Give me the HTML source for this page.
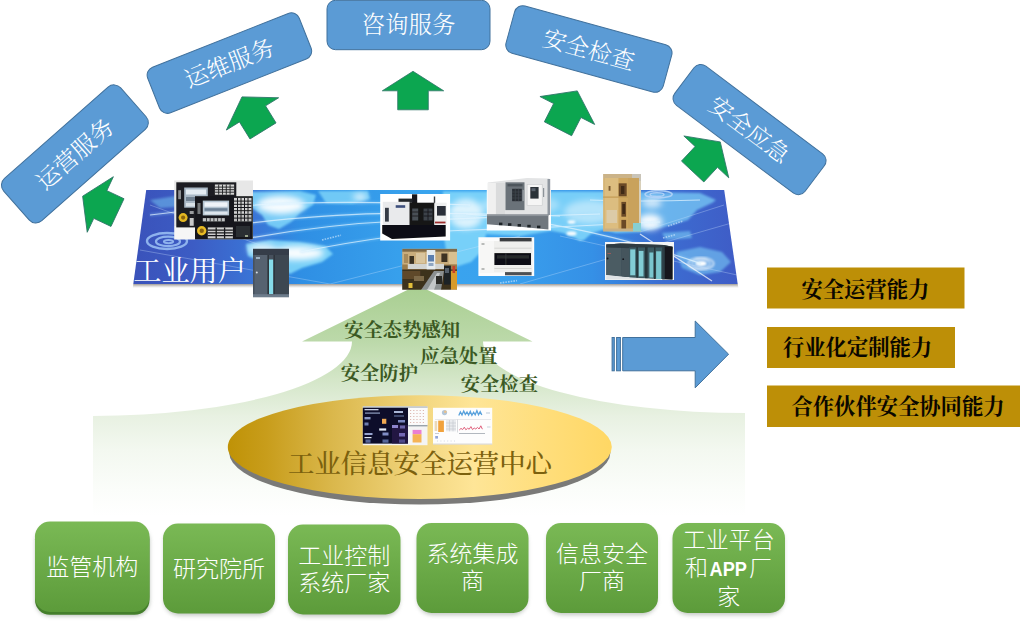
<!DOCTYPE html>
<html lang="zh-CN">
<head>
<meta charset="utf-8">
<title>工业信息安全运营中心</title>
<style>
html,body{margin:0;padding:0;background:#fff;}
body{width:1020px;height:621px;overflow:hidden;}
svg{display:block;}
.song{font-family:"Liberation Serif","Noto Serif CJK SC",serif;}
.hei{font-family:"Liberation Sans","Noto Sans CJK SC",sans-serif;}
.bt{fill:#fff;font-size:23.5px;font-weight:300;text-anchor:middle;}
.gl{fill:#3b5923;font-size:19.3px;font-weight:700;}
.gd{fill:#0a0700;font-size:21.3px;font-weight:700;}
.gb{fill:#fff;font-size:23px;font-weight:300;text-anchor:middle;}
</style>
</head>
<body>
<svg width="1020" height="621" viewBox="0 0 1020 621">
<defs>
  <linearGradient id="gArrow" x1="0" y1="285" x2="0" y2="516" gradientUnits="userSpaceOnUse">
    <stop offset="0" stop-color="#a8ce90"/>
    <stop offset="0.245" stop-color="#bcd9aa"/>
    <stop offset="0.41" stop-color="#d4e6c8"/>
    <stop offset="0.567" stop-color="#e8f1e2"/>
    <stop offset="0.714" stop-color="#f3f8f0"/>
    <stop offset="0.887" stop-color="#fbfdfa"/>
    <stop offset="1" stop-color="#ffffff"/>
  </linearGradient>
  <linearGradient id="gMap" x1="132" y1="0" x2="738" y2="0" gradientUnits="userSpaceOnUse">
    <stop offset="0" stop-color="#3a52ba"/>
    <stop offset="0.1" stop-color="#3c5cc4"/>
    <stop offset="0.2" stop-color="#3a74d6"/>
    <stop offset="0.28" stop-color="#2f8fe4"/>
    <stop offset="0.48" stop-color="#39a4ee"/>
    <stop offset="0.6" stop-color="#3aa2ee"/>
    <stop offset="0.76" stop-color="#3590e6"/>
    <stop offset="0.87" stop-color="#3c6ed2"/>
    <stop offset="1" stop-color="#3f5cc6"/>
  </linearGradient>
  <linearGradient id="gShadow" x1="0" y1="284" x2="0" y2="288.2" gradientUnits="userSpaceOnUse">
    <stop offset="0" stop-color="#9a948e" stop-opacity="0.95"/>
    <stop offset="0.5" stop-color="#b9b5b0" stop-opacity="0.55"/>
    <stop offset="1" stop-color="#d8d6d4" stop-opacity="0"/>
  </linearGradient>
  <linearGradient id="gGold" x1="227.8" y1="0" x2="611.8" y2="0" gradientUnits="userSpaceOnUse">
    <stop offset="0" stop-color="#bf9206"/>
    <stop offset="0.1" stop-color="#c89d1b"/>
    <stop offset="0.27" stop-color="#dab74b"/>
    <stop offset="0.5" stop-color="#f2d67f"/>
    <stop offset="0.64" stop-color="#fee597"/>
    <stop offset="0.82" stop-color="#ffde7c"/>
    <stop offset="1" stop-color="#ffd764"/>
  </linearGradient>
  <linearGradient id="gBox" x1="0" y1="0" x2="0" y2="1">
    <stop offset="0" stop-color="#7ab955"/>
    <stop offset="1" stop-color="#5c9b3a"/>
  </linearGradient>
  <filter id="blur3" x="-30%" y="-30%" width="160%" height="160%"><feGaussianBlur stdDeviation="3"/></filter>
  <filter id="blur05" x="-5%" y="-5%" width="110%" height="110%"><feGaussianBlur stdDeviation="0.45"/></filter>
  <filter id="blur07" x="-5%" y="-5%" width="110%" height="110%"><feGaussianBlur stdDeviation="0.7"/></filter>
  <filter id="blur1" x="-10%" y="-10%" width="120%" height="120%"><feGaussianBlur stdDeviation="0.8"/></filter>
  <filter id="blur2" x="-30%" y="-30%" width="160%" height="160%"><feGaussianBlur stdDeviation="2"/></filter>
  <filter id="blur6" x="-30%" y="-30%" width="160%" height="160%"><feGaussianBlur stdDeviation="6"/></filter>
  <clipPath id="mapClip"><polygon points="146.2,190 724.2,190 737.7,284 133.3,284"/></clipPath>
</defs>

<!-- big gradient arrow -->
<path id="bigArrow" fill="url(#gArrow)" d="M417.5 285 L532.5 341.5 L483 341.5 A262 71.5 0 0 0 745 413 L745 516 L93 516 L93 416 A259 74.5 0 0 0 352 341.5 L302 341.5 Z"/>

<!-- map panel -->
<g id="map">
  <polygon points="133.3,284 737.7,284 738.5,288.2 132.8,288.2" fill="url(#gShadow)"/>
  <polygon points="146.2,190 724.2,190 737.7,284 133.3,284" fill="url(#gMap)"/>
  <g clip-path="url(#mapClip)">
    <!-- continents (cyan) -->
    <g fill="#7fd6fa" filter="url(#blur1)">
      <polygon opacity="0.45" points="150,200 176,196 215,194 250,192 256,206 240,209 215,207 190,206 160,208"/>
      <polygon opacity="0.85" points="250,192 300,191 316,195 313,205 301,212 291,222 279,229 268,225 262,215 252,208"/>
      <polygon opacity="0.8" points="318,191 368,191 370,199 352,204 326,203"/>
      <polygon opacity="0.9" points="246,244 270,240 300,242 325,246 333,254 322,262 302,268 290,274 281,268 262,262 248,256"/>
      <polygon opacity="0.88" points="443,191.5 640,191.5 640,232 616,233 603,230 592,233 584,240 580,241 574,237.5 563,233 551,230.7 520,236 486,234 483,250 471,262 452,268 446,250 442,225"/>
      <polygon opacity="0.68" points="640,192 700,193 716,200 712,203 697,210 688,220 675,224 660,228 640,232"/>
      <polygon opacity="0.55" points="662,233 690,231 692,238 666,240"/>
      <polygon opacity="0.55" points="676,252 700,247 722,252 731,262 720,272 700,275 682,268"/>
      <polygon opacity="0.5" points="400,197 440,195 441,230 420,238 402,228"/>
    </g>
    <!-- glows -->
    <g fill="#ffffff" filter="url(#blur3)">
      <ellipse cx="281" cy="205" rx="24" ry="9" opacity="0.95"/>
      <ellipse cx="298" cy="253" rx="26" ry="7" opacity="0.95"/>
      <ellipse cx="262" cy="249" rx="14" ry="5" opacity="0.8"/>
      <ellipse cx="360" cy="197" rx="7" ry="3" opacity="0.9"/>
      <ellipse cx="466" cy="214" rx="17" ry="15" opacity="0.75"/>
      <ellipse cx="520" cy="205" rx="40" ry="10" opacity="0.35"/>
      <ellipse cx="590" cy="212" rx="26" ry="12" opacity="0.45"/>
      <ellipse cx="650" cy="222" rx="12" ry="8" opacity="0.95"/>
      <ellipse cx="652" cy="203" rx="10" ry="5" opacity="0.7"/>
    </g>
    <g fill="#ffffff" filter="url(#blur1)">
      <ellipse cx="571.5" cy="222" rx="4" ry="1.8" opacity="0.95"/>
      <ellipse cx="571.5" cy="233.5" rx="5" ry="2.2" opacity="0.95"/>
      <ellipse cx="701" cy="263.6" rx="6" ry="2.8" opacity="1"/>
    </g>
    <g fill="none" stroke="#ffffff" filter="url(#blur1)">
      <ellipse cx="701" cy="263.6" rx="12.7" ry="6" stroke-width="1.6" opacity="0.75"/>
      <ellipse cx="701" cy="263.6" rx="9" ry="4.2" stroke-width="1.2" opacity="0.8"/>
    </g>
    <!-- swirls -->
    <g fill="none" stroke="#93b8f0" opacity="0.95">
      <ellipse cx="167" cy="241" rx="20" ry="8" stroke-width="2.4"/>
      <ellipse cx="168" cy="241.4" rx="12" ry="4.7" stroke-width="2.2"/>
      <ellipse cx="168.5" cy="241.6" rx="4.6" ry="1.7" stroke-width="2"/>
    </g>
    <g fill="none" stroke="#b4d4f8" opacity="0.9">
      <ellipse cx="658.6" cy="194.3" rx="13.5" ry="3.6" stroke-width="1.6"/>
      <ellipse cx="657" cy="194.6" rx="7" ry="1.9" stroke-width="1.4"/>
    </g>
    <!-- arcs and grid lines -->
    <g fill="none" stroke="#9fdcff" stroke-width="3.2" opacity="0.28" filter="url(#blur1)">
      <path d="M150 215 Q230 205 300 203 T470 205"/>
      <path d="M180 232 Q300 215 380 213.7 T560 216"/>
      <path d="M250 238 Q330 224 400 221 T600 214"/>
      <path d="M300 252 Q400 232 470 230 T660 222"/>
      <path d="M466 214 Q580 222 701 263.6"/>
    </g>
    <g fill="none" stroke="#e6f6ff" stroke-width="1.2" opacity="0.7">
      <path d="M150 215 Q230 205 300 203 T470 205"/>
      <path d="M180 232 Q300 215 380 213.7 T560 216"/>
      <path d="M250 238 Q330 224 400 221 T600 214"/>
      <path d="M300 252 Q400 232 470 230 T660 222"/>
      <path d="M466 214 Q580 222 701 263.6"/>
      <path d="M590 200 Q640 202 700 200"/>
    </g>
    <g fill="none" stroke="#cfe6ff" stroke-width="0.8" opacity="0.4">
      <path d="M140 250 L330 284"/>
      <path d="M330 284 L520 236"/>
      <path d="M520 284 L735 222"/>
      <path d="M560 236 L737 275"/>
      <path d="M640 232 L724 205"/>
      <path d="M150 205 L260 245"/>
    </g>
    <line x1="640" y1="234" x2="712" y2="281" stroke="#ffffff" stroke-width="1.3" opacity="0.7"/>
    <!-- tiny caption marks on the map -->
    <g stroke="#d8ecff" stroke-width="1.6" stroke-dasharray="1.6 1.1" opacity="0.6" fill="none">
      <path d="M322 240 L341 235.2"/>
      <path d="M500 283 L517 280.6"/>
      <path d="M668 226 L683 221"/>
      <path d="M663 238 L676 234.5"/>
    </g>
  </g>
</g>

<!-- device pictures on map -->
<g id="pics">
  <!-- 1 CNC control panels -->
  <clipPath id="c1"><rect x="174.2" y="180.4" width="78.8" height="59.2"/></clipPath>
  <g clip-path="url(#c1)"><g filter="url(#blur05)">
    <rect x="172" y="178" width="84" height="64" fill="#e7e7e7"/>
    <rect x="174.2" y="226" width="22" height="14" fill="#f6f6f6"/>
    <rect x="176.3" y="182.3" width="60" height="45.1" fill="#1d1e20"/>
    <rect x="184.2" y="187.5" width="23.6" height="20.2" fill="#aab8c6"/>
    <rect x="186" y="189.5" width="20" height="5" fill="#e4ebf2"/>
    <rect x="186" y="197" width="20" height="4" fill="#6f8091"/>
    <rect x="186" y="203" width="20" height="3.4" fill="#d9e1e8"/>
    <rect x="178.2" y="190.2" width="2.8" height="9" fill="#8d8f92"/>
    <rect x="214.9" y="184.5" width="19.2" height="10.2" fill="#d6d6d6"/>
    <path d="M214.9 187.1h19.2M214.9 189.7h19.2M214.9 192.2h19.2M218.7 184.5v10.2M222.5 184.5v10.2M226.3 184.5v10.2M230.1 184.5v10.2" stroke="#1d1e20" stroke-width="0.9"/>
    <circle cx="183.1" cy="217.6" r="4.5" fill="#e4b721"/>
    <circle cx="183.1" cy="217.6" r="2.1" fill="#8a6410"/>
    <rect x="189.7" y="211" width="4" height="3" fill="#9b9da0"/>
    <rect x="189.7" y="218" width="4" height="7.8" fill="#c8c8c8"/>
    <rect x="195" y="196.2" width="57.8" height="43.4" fill="#18191b"/>
    <rect x="202.8" y="200.6" width="26.3" height="14.8" fill="#b4c4d1"/>
    <rect x="204.5" y="202.3" width="23" height="4.4" fill="#eef3f8"/>
    <rect x="204.5" y="208.2" width="23" height="2.6" fill="#6d8196"/>
    <rect x="204.5" y="212" width="23" height="2.4" fill="#dde5ec"/>
    <rect x="197.5" y="203" width="3" height="11" fill="#75787c"/>
    <rect x="202.8" y="218.1" width="22" height="3.3" fill="#bfc1c3"/>
    <path d="M206.5 218.1v3.3M210.2 218.1v3.3M213.9 218.1v3.3M217.6 218.1v3.3M221.3 218.1v3.3" stroke="#18191b" stroke-width="0.8"/>
    <rect x="234" y="197.9" width="17.5" height="15.9" fill="#d2d2d2"/>
    <path d="M234 201.1h17.5M234 204.3h17.5M234 207.5h17.5M234 210.7h17.5M237.5 197.9v15.9M241 197.9v15.9M244.5 197.9v15.9M248 197.9v15.9" stroke="#18191b" stroke-width="1"/>
    <rect x="234" y="214.9" width="17.5" height="6.5" fill="#bdbdbd"/>
    <path d="M234 218.1h17.5M237.5 214.9v6.5M241 214.9v6.5M244.5 214.9v6.5M248 214.9v6.5" stroke="#18191b" stroke-width="1"/>
    <circle cx="201.7" cy="230.7" r="4.7" fill="#e8bb25"/>
    <circle cx="201.7" cy="230.7" r="2.2" fill="#8a6410"/>
    <rect x="207.8" y="227.4" width="25.1" height="11" fill="#cfcfcf"/>
    <path d="M207.8 230.1h25.1M207.8 232.9h25.1M207.8 235.6h25.1M216.2 227.4v11M224.6 227.4v11" stroke="#18191b" stroke-width="1.3"/>
    <rect x="236" y="226" width="14" height="11" fill="#2c2d30"/>
    <rect x="245" y="235" width="3" height="2" fill="#9aa58a"/>
  </g></g>
  <!-- 2 small PLC -->
  <clipPath id="c2"><rect x="253" y="248.7" width="36" height="48.6"/></clipPath>
  <g clip-path="url(#c2)"><g filter="url(#blur05)">
    <rect x="251" y="246" width="40" height="54" fill="#47515d"/>
    <rect x="253" y="248.7" width="36" height="6.3" fill="#363e48"/>
    <rect x="254.5" y="255" width="13" height="40" fill="#56626f"/>
    <rect x="256" y="257" width="4" height="2" fill="#9fb3c4"/>
    <rect x="267.5" y="255" width="1.5" height="41" fill="#2d343c"/>
    <rect x="269" y="259.5" width="4.4" height="34.5" fill="#86dbe9"/>
    <rect x="273.4" y="255" width="1.6" height="41" fill="#2d343c"/>
    <rect x="275" y="255" width="14" height="41" fill="#3e4751"/>
    <circle cx="256.8" cy="272.5" r="1" fill="#d5dce2"/>
    <rect x="253" y="294.2" width="36" height="3.2" fill="#6d7b8b"/>
  </g></g>
  <!-- 3 machining centre -->
  <clipPath id="c3"><rect x="380.2" y="194" width="69.9" height="46.4"/></clipPath>
  <g clip-path="url(#c3)"><g filter="url(#blur05)">
    <rect x="378" y="192" width="74" height="50" fill="#ffffff"/>
    <rect x="412" y="194.3" width="5.2" height="9" fill="#16171a"/>
    <rect x="398.5" y="198.6" width="14" height="4.2" fill="#24262a"/>
    <rect x="433.8" y="196.5" width="1.4" height="7" fill="#3a3c40"/>
    <rect x="382.8" y="201.8" width="26.8" height="25" fill="#e9eaec"/>
    <rect x="385" y="207.8" width="3.8" height="13.8" fill="#343a44"/>
    <rect x="395.7" y="205.2" width="9.5" height="2.6" fill="#3c4f7c"/>
    <rect x="409.5" y="202.7" width="25" height="24.1" fill="#141517"/>
    <rect x="412.2" y="208.5" width="6" height="12" fill="#4a4f57"/>
    <rect x="423.5" y="208.5" width="9" height="12" fill="#3d4249"/>
    <path d="M412.2 212h6M412.2 216h6M423.5 212h9M423.5 216h9M428 208.5v12" stroke="#141517" stroke-width="0.8"/>
    <rect x="434.5" y="202.7" width="12.1" height="22.3" fill="#eeefef"/>
    <rect x="437" y="206" width="8.7" height="9.6" fill="#2a2f37"/>
    <rect x="435" y="221.6" width="10.5" height="1.8" fill="#9d2f2f"/>
    <polygon points="382.2,225 445.7,225 445.7,236.5 392,239 382.2,233.6" fill="#0f1012"/>
  </g></g>
  <!-- 4 workshop photo -->
  <clipPath id="c4"><rect x="402.2" y="248.7" width="54.8" height="41.1"/></clipPath>
  <g clip-path="url(#c4)"><g filter="url(#blur07)">
    <rect x="400" y="246" width="60" height="46" fill="#9c7d4c"/>
    <rect x="400" y="246" width="60" height="18.5" fill="#c9ad7c"/>
    <rect x="402.2" y="248.7" width="55" height="3" fill="#7f6a48"/>
    <rect x="409.5" y="256" width="4.5" height="8" fill="#3b3022"/>
    <rect x="404" y="254" width="4" height="9" fill="#a78b5c"/>
    <rect x="416" y="253" width="9" height="10" fill="#d9c59e"/>
    <rect x="441.4" y="253.5" width="6" height="8.5" fill="#3d3124"/>
    <rect x="449" y="252" width="8" height="12" fill="#d8c090"/>
    <rect x="407.8" y="263.9" width="36.2" height="5.1" fill="#d2d4d2"/>
    <rect x="426.7" y="250" width="8.6" height="20.8" fill="#e6ecef"/>
    <rect x="428" y="255" width="6" height="6.5" fill="#5c7fae"/>
    <rect x="428.5" y="263" width="5" height="3" fill="#8fa6c2"/>
    <rect x="400" y="269.5" width="60" height="22" fill="#3e301f"/>
    <rect x="402.2" y="271" width="18" height="8" fill="#5e4a2c"/>
    <rect x="408.5" y="283" width="4" height="5" fill="#e3bf3a"/>
    <rect x="414" y="276" width="10" height="5" fill="#7d6a4a"/>
    <polygon points="421,290 434,271 444,271 441,290" fill="#8b9091"/>
    <polygon points="427,290 437,273 440,273 434,290" fill="#c3c7c8"/>
    <rect x="444" y="265.6" width="6.9" height="19" fill="#1e2125"/>
    <rect x="445" y="268" width="4" height="5" fill="#55606c"/>
    <rect x="450.9" y="270.8" width="6.2" height="19" fill="#d79a2c"/>
    <rect x="452.5" y="266" width="2.6" height="7" fill="#c8402c"/>
    <rect x="436" y="276" width="6" height="8" fill="#2c2a28"/>
  </g></g>
  <!-- 5 lathe -->
  <clipPath id="c5"><rect x="486.8" y="177" width="64.2" height="53.5"/></clipPath>
  <g clip-path="url(#c5)"><g filter="url(#blur05)">
    <rect x="484" y="175" width="70" height="58" fill="#ffffff"/>
    <polygon points="487.8,182.6 527,178 549.3,178.6 549.3,214.5 487.8,214.5" fill="#e3e4e5"/>
    <rect x="487.8" y="183" width="8" height="31.5" fill="#f0f0f0"/>
    <rect x="496" y="183" width="9" height="31.5" fill="#dadbdc"/>
    <rect x="505.5" y="182.3" width="19" height="27.8" fill="#6b7279"/>
    <rect x="507.5" y="184" width="15" height="2.4" fill="#4e545b"/>
    <rect x="512.1" y="188.8" width="9.7" height="12.4" fill="#2a2f36"/>
    <path d="M512.1 192h9.7M512.1 195h9.7M512.1 198h9.7M515.3 188.8v12.4M518.6 188.8v12.4" stroke="#454b53" stroke-width="0.6"/>
    <rect x="522.6" y="190" width="1.2" height="11" fill="#9aa0a6"/>
    <rect x="527.1" y="184.4" width="15.1" height="21.3" fill="#f5f5f5"/>
    <rect x="527.1" y="184.4" width="15.1" height="21.3" fill="none" stroke="#c9cacc" stroke-width="0.6"/>
    <rect x="530.3" y="187" width="8.3" height="11.6" fill="#2b3037"/>
    <rect x="531.5" y="188.2" width="4" height="3" fill="#59626c"/>
    <rect x="543" y="188" width="1.2" height="9" fill="#8d9399"/>
    <rect x="547.5" y="179" width="2.7" height="36" fill="#9097a0"/>
    <polygon points="486.8,214.5 548.4,214.5 548.4,229.6 520,226.8 486.8,224.2" fill="#70777e"/>
    <rect x="486.8" y="214.5" width="61.6" height="1.6" fill="#8e949a"/>
    <rect x="499" y="222.6" width="3.4" height="2.6" fill="#1f2327"/>
    <rect x="508" y="223.2" width="3.4" height="2.6" fill="#1f2327"/>
    <rect x="517.6" y="224" width="3.4" height="2.6" fill="#1f2327"/>
    <rect x="527.3" y="224.8" width="3.4" height="2.6" fill="#1f2327"/>
    <rect x="537" y="225.6" width="3.4" height="2.6" fill="#1f2327"/>
  </g></g>
  <!-- 6 white PLC box -->
  <clipPath id="c6"><rect x="478.4" y="237.2" width="55.8" height="38.9"/></clipPath>
  <g clip-path="url(#c6)"><g filter="url(#blur05)">
    <rect x="476" y="235" width="60" height="44" fill="#fcfcfc"/>
    <rect x="480" y="241" width="52.5" height="31.5" fill="#efefed"/>
    <rect x="480" y="241" width="14" height="31.5" fill="#f7f7f6"/>
    <rect x="499.7" y="237.9" width="31.9" height="3.5" fill="#3b3d3f"/>
    <rect x="494.4" y="253.1" width="36.6" height="11.9" fill="#0f1012"/>
    <rect x="497" y="255.2" width="32" height="3.4" fill="#26292c"/>
    <rect x="505.5" y="253.1" width="0.8" height="11.9" fill="#3a3d40"/>
    <rect x="505" y="272.1" width="26.6" height="3.2" fill="#4d5052"/>
    <path d="M494.4 248.2h37M494.4 268.5h37" stroke="#d3d3d0" stroke-width="0.9"/>
    <rect x="481.5" y="243" width="3" height="2" fill="#b9bbb9"/>
    <rect x="481.5" y="268" width="3" height="2" fill="#b9bbb9"/>
  </g></g>
  <!-- 7 beige servo drive -->
  <clipPath id="c7"><rect x="603.1" y="174" width="37.9" height="57.4"/></clipPath>
  <g clip-path="url(#c7)"><g filter="url(#blur07)">
    <rect x="600" y="171" width="44" height="63" fill="#d6b576"/>
    <rect x="603" y="174" width="38" height="4.5" fill="#cbb388"/>
    <rect x="632" y="174" width="9" height="7" fill="#c9c4b8"/>
    <rect x="638.8" y="181" width="2.4" height="42" fill="#d9d0ba"/>
    <rect x="605" y="178" width="13.5" height="51" fill="#dcbd80"/>
    <rect x="618.5" y="178" width="9.5" height="52" fill="#cfa75f"/>
    <rect x="628" y="178" width="11" height="51" fill="#c9a25c"/>
    <rect x="618.7" y="183.3" width="8" height="13.2" fill="#6b4a28"/>
    <rect x="621" y="186" width="3.4" height="8" fill="#3f2a16"/>
    <rect x="621.4" y="201.9" width="4.7" height="14.8" fill="#6b4a28"/>
    <rect x="622.4" y="204" width="2.6" height="10" fill="#3f2a16"/>
    <rect x="621.4" y="219.9" width="4.7" height="9.6" fill="#6b4a28"/>
    <rect x="608.6" y="186" width="1.9" height="4.7" fill="#7a5a30"/>
    <rect x="606.5" y="210" width="10.5" height="13" fill="#dccba8"/>
    <rect x="603" y="196.5" width="25" height="1.2" fill="#c29b55"/>
    <rect x="603" y="228.5" width="30" height="3" fill="#c9b186"/>
    <rect x="633" y="223" width="8" height="8.5" fill="#86cfd2"/>
  </g></g>
  <!-- 8 S7-300 rack -->
  <clipPath id="c8"><rect x="604.9" y="241.9" width="69.2" height="38.1"/></clipPath>
  <g clip-path="url(#c8)"><g filter="url(#blur07)">
    <rect x="602" y="239" width="76" height="44" fill="#f3f4f5"/>
    <polygon points="606.3,244.5 622,243.5 664,245 672.5,246.8 672.5,279.6 625,277 606.3,274.9" fill="#3f5159"/>
    <polygon points="606.3,244.5 621.2,243.6 621.2,276.5 606.3,274.9" fill="#4b5b64"/>
    <rect x="621.6" y="244" width="7.8" height="33" fill="#45545d"/>
    <polygon points="606.3,244.5 622,243.5 664,245 672.5,246.8 672.5,249.5 606.3,247.5" fill="#2f3b42"/>
    <rect x="629.4" y="247.5" width="35" height="31" fill="#3b5a62"/>
    <rect x="630.2" y="249.4" width="5.1" height="25.9" fill="#82cdd5"/>
    <rect x="638.8" y="250.9" width="4.7" height="25.5" fill="#82cdd5"/>
    <rect x="649.4" y="252.5" width="3.9" height="25.1" fill="#7ac5ce"/>
    <rect x="656.1" y="251.3" width="5.1" height="27.9" fill="#7ac5ce"/>
    <rect x="636.3" y="247" width="1.6" height="31" fill="#26343a"/>
    <rect x="645" y="247" width="2.6" height="31.5" fill="#26343a"/>
    <rect x="654" y="247" width="1.5" height="32" fill="#26343a"/>
    <rect x="662.2" y="247" width="2.5" height="32.5" fill="#2d3d44"/>
    <polygon points="664.7,246.4 672.5,246.8 672.5,279.6 664.7,279.2" fill="#15191c"/>
    <circle cx="607.6" cy="258.5" r="0.9" fill="#14181b"/>
    <circle cx="623.2" cy="259.2" r="0.9" fill="#14181b"/>
    <rect x="607.5" y="253" width="3.5" height="1" fill="#9a5a5a"/>
    <polygon points="606.3,274.9 625,277 660,279.5 606.3,279.5" fill="#dfe3e6"/>
  </g></g>
</g>
<text class="song" x="133.2" y="281.3" font-size="28.2" fill="#ffffff">工业用户</text>

<!-- top blue boxes -->
<g id="blueBoxes" stroke="#41719c" stroke-width="1" fill="#5b9bd5">
  <rect x="-78" y="-28.2" width="156" height="56.4" rx="9" transform="translate(74.9,153.9) rotate(-41.4)"/>
  <rect x="-81.5" y="-24.5" width="163" height="49" rx="8.5" transform="translate(229.4,63.1) rotate(-21.6)"/>
  <rect x="327" y="0.3" width="163" height="49.4" rx="8.5"/>
  <rect x="-81.5" y="-24.5" width="163" height="49" rx="8.5" transform="translate(588.9,49) rotate(15.4)"/>
  <rect x="-81.5" y="-24.5" width="163" height="49" rx="8.5" transform="translate(749.55,129.55) rotate(36.9)"/>
</g>
<g class="song bt">
  <text transform="translate(74.9,153.9) rotate(-41.4)" y="8.5">运营服务</text>
  <text transform="translate(229.4,63.1) rotate(-21.6)" y="8.5">运维服务</text>
  <text x="408.5" y="33">咨询服务</text>
  <text transform="translate(588.9,49) rotate(15.4)" y="9">安全检查</text>
  <text transform="translate(749.55,129.55) rotate(36.9)" y="8.5">安全应急</text>
</g>

<!-- green small arrows -->
<g id="greenArrows" fill="#0ca650" stroke="#2f7568" stroke-width="0.8">
  <polygon points="0,-19.5 30.7,0 15.3,0 15.3,19 -15.3,19 -15.3,0 -30.7,0" transform="translate(100.3,204.5) rotate(-64.8)"/>
  <polygon points="0,-20 30.7,0 15.3,0 15.3,20 -15.3,20 -15.3,0 -30.7,0" transform="translate(252.5,113.9) rotate(-31.7)"/>
  <polygon points="0,-19.5 30.7,0 15.3,0 15.3,19 -15.3,19 -15.3,0 -30.7,0" transform="translate(413,90.8)"/>
  <polygon points="0,-22 30.7,0 15.3,0 15.3,20.5 -15.3,20.5 -15.3,0 -30.7,0" transform="translate(567.3,110.5) rotate(27)"/>
  <polygon points="0,-20.5 30.7,0 15.3,0 15.3,20 -15.3,20 -15.3,0 -30.7,0" transform="translate(706.3,156.9) rotate(43)"/>
</g>

<!-- ellipse -->
<g id="disc">
  <ellipse cx="419.8" cy="452.6" rx="190.6" ry="52" fill="#7a7a78"/>
  <ellipse cx="419.8" cy="447.1" rx="192" ry="51.9" fill="url(#gGold)"/>
  <!-- dashboard screenshots -->
  <g filter="url(#blur05)">
    <rect x="362.8" y="406.4" width="64.7" height="38.8" fill="#f4f4f4"/>
    <rect x="362.8" y="406.4" width="64.7" height="1.6" fill="#b9c1c9"/>
    <rect x="362.8" y="407.8" width="45.2" height="35.8" fill="#0e1129"/>
    <rect x="392" y="425" width="16" height="18.6" fill="#2a1a4a" opacity="0.8"/>
    <rect x="364.5" y="409" width="14" height="1.3" fill="#c9d2e6"/>
    <rect x="365" y="412.5" width="15" height="1.2" fill="#8f9dc0"/>
    <rect x="394" y="411" width="9" height="2" fill="#a9b6d6"/>
    <rect x="394" y="415.5" width="10" height="1" fill="#6f7fb0"/>
    <rect x="382" y="418.8" width="4.3" height="5" fill="#f0a952"/>
    <rect x="379.2" y="428.4" width="7" height="2.2" fill="#e6edfa"/>
    <rect x="364.5" y="417" width="6" height="2.4" fill="#8a97c4"/>
    <rect x="364.5" y="422.5" width="4" height="3" fill="#6e7cb0"/>
    <rect x="398" y="420" width="7" height="2.5" fill="#7a86c0"/>
    <rect x="392" y="425" width="6" height="3" fill="#8d84cc"/>
    <rect x="400" y="425.5" width="5" height="3" fill="#6a62a8"/>
    <rect x="364.5" y="433" width="8" height="2" fill="#97a4d0"/>
    <rect x="364.5" y="437" width="7" height="1.2" fill="#dfe6f6"/>
    <rect x="382.5" y="432.5" width="6" height="3" fill="#7f8cc4"/>
    <rect x="399" y="433" width="6" height="3.5" fill="#7468b4"/>
    <rect x="365.5" y="439.5" width="5" height="3.2" fill="#59679c"/>
    <rect x="382.5" y="439.5" width="6" height="3.2" fill="#59679c"/>
    <rect x="399" y="439.5" width="6" height="3.2" fill="#4f4a8a"/>
    <rect x="408.3" y="407.8" width="19.2" height="17" fill="#fbfbfb"/>
    <path d="M410 410.5h16M410 413.5h16M410 416.5h16M410 419.5h16M410 422.5h16" stroke="#d9b0a8" stroke-width="0.9" stroke-dasharray="1.2 2"/>
    <rect x="408.3" y="425" width="19.2" height="1.4" fill="#9aa3aa"/>
    <rect x="412.6" y="429.9" width="8.9" height="4.4" fill="#ea7fd2"/>
    <rect x="412.6" y="434.2" width="8.9" height="8.3" fill="#f5b355"/>
    <rect x="433" y="407.8" width="59.2" height="36.6" fill="#fdfdfd"/>
    <rect x="433" y="443.6" width="59.2" height="0.9" fill="#cfcfcf"/>
    <circle cx="444.5" cy="412.6" r="2.6" fill="#b3c6d8"/>
    <circle cx="445.3" cy="411.8" r="1.3" fill="#e9c08a"/>
    <path d="M458.8 415.5l1.6-3.5 1.6 3 1.7-4 1.6 3.4 1.7-2.4 1.6 3 1.7-3.6 1.6 3.8 1.7-3 1.6 2.6 1.7-4 1.6 4 1.7-3.2 1.6 3.4" stroke="#5aa2dc" stroke-width="1.3" fill="none"/>
    <rect x="486" y="412.5" width="4" height="1" fill="#b9c9d9"/>
    <rect x="435" y="419" width="56" height="0.7" fill="#dcdfe3"/>
    <rect x="438.2" y="420.6" width="5.7" height="11.4" fill="#f1a23c"/>
    <rect x="434.6" y="421" width="2.6" height="10" fill="#ecd9b8"/>
    <rect x="446" y="420" width="10" height="11.3" fill="#e9ebee"/>
    <path d="M446 423h10M446 426h10M446 429h10M449.5 420v11.3M453 420v11.3" stroke="#c4c8ce" stroke-width="0.6"/>
    <rect x="457.2" y="419.5" width="0.7" height="13" fill="#c9ccd2"/>
    <path d="M459.3 430l1.7-1.6 1.6 1.2 1.7-2.4 1.6 2.6 1.7-1.6 1.6 1 1.7-2.6 1.6 3 1.7-1.6 1.6 1 1.7-1.6 1.6 1.6 1.7-3.2 1.6 3.4" stroke="#e0607c" stroke-width="1" fill="none"/>
    <rect x="459" y="433" width="26" height="0.8" fill="#9fa7b0"/>
    <rect x="487" y="426.5" width="3.5" height="1" fill="#c9d3dc"/>
    <rect x="435.2" y="436" width="2.8" height="2.6" fill="#93a6d8"/>
    <rect x="435" y="433.2" width="4" height="0.8" fill="#b9c0cc"/>
    <path d="M437 441h18" stroke="#c9d0e0" stroke-width="0.8" stroke-dasharray="1 2.4"/>
  </g>
  <text class="song" x="420" y="472.5" font-size="26.4" font-weight="500" fill="#7c610e" text-anchor="middle">工业信息安全运营中心</text>
</g>

<!-- labels inside arrow -->
<g class="song gl">
  <text x="344.3" y="337">安全态势感知</text>
  <text x="420.3" y="363.2">应急处置</text>
  <text x="340.8" y="380">安全防护</text>
  <text x="460.8" y="390.5">安全检查</text>
</g>

<!-- blue striped arrow -->
<g id="blueArrow" fill="#5b9bd5" stroke="#41719c" stroke-width="1">
  <rect x="612.1" y="337.5" width="2.2" height="33.3"/>
  <rect x="616.6" y="337.5" width="3.8" height="33.3"/>
  <polygon points="622.7,337.5 695.2,337.5 695.2,321 728.6,354.2 695.2,387.8 695.2,370.8 622.7,370.8"/>
</g>

<!-- gold boxes -->
<g id="goldBoxes">
  <rect x="767" y="267.5" width="197.5" height="41" fill="#bd8f07"/>
  <rect x="767" y="327" width="188" height="41" fill="#bd8f07"/>
  <rect x="767" y="385.5" width="253" height="41.5" fill="#bd8f07"/>
  <g class="song gd">
    <text x="801.5" y="296.5">安全运营能力</text>
    <text x="783" y="355">行业化定制能力</text>
    <text x="791.5" y="414">合作伙伴安全协同能力</text>
  </g>
</g>

<!-- bottom green boxes -->
<g id="greenBoxes">
  <rect x="35.5" y="526" width="114" height="90" rx="15" fill="#9aa59a" filter="url(#blur2)" opacity="0.7"/>
  <rect x="35" y="524.3" width="114.5" height="90.5" rx="15" fill="#447f2b"/>
  <rect x="35" y="521.5" width="114.5" height="90.5" rx="15" fill="url(#gBox)"/>
  <g fill="#8f998f" opacity="0.55" filter="url(#blur2)">
    <rect x="164" y="526.5" width="110" height="89" rx="15"/>
    <rect x="289" y="527.5" width="110.5" height="89" rx="15"/>
    <rect x="417.5" y="526" width="110" height="89" rx="15"/>
    <rect x="547" y="526" width="110" height="89" rx="15"/>
    <rect x="673.5" y="526" width="110.5" height="89" rx="15"/>
  </g>
  <rect x="163" y="523.5" width="112" height="90" rx="15" fill="url(#gBox)"/>
  <rect x="288" y="524.5" width="112.5" height="90" rx="15" fill="url(#gBox)"/>
  <rect x="416.5" y="523" width="112" height="90" rx="15" fill="url(#gBox)"/>
  <rect x="546" y="523" width="112" height="90" rx="15" fill="url(#gBox)"/>
  <rect x="672.5" y="523" width="112.5" height="90" rx="15" fill="url(#gBox)"/>
  <g class="hei gb">
    <text x="92.3" y="574.5">监管机构</text>
    <text x="219" y="577">研究院所</text>
    <text x="344.3" y="563.5">工业控制</text>
    <text x="344.3" y="590.5">系统厂家</text>
    <text x="472.5" y="561.5">系统集成</text>
    <text x="472.5" y="589">商</text>
    <text x="602" y="561.5">信息安全</text>
    <text x="602" y="589">厂商</text>
    <text x="728.8" y="547.5">工业平台</text>
    <text x="685" y="576" text-anchor="start">和</text><text x="709.6" y="576" text-anchor="start" font-size="20.7" font-weight="700" textLength="37.4" lengthAdjust="spacingAndGlyphs">APP</text><text x="749" y="576" text-anchor="start">厂</text>
    <text x="728.8" y="604.5">家</text>
  </g>
</g>
</svg>
</body>
</html>
